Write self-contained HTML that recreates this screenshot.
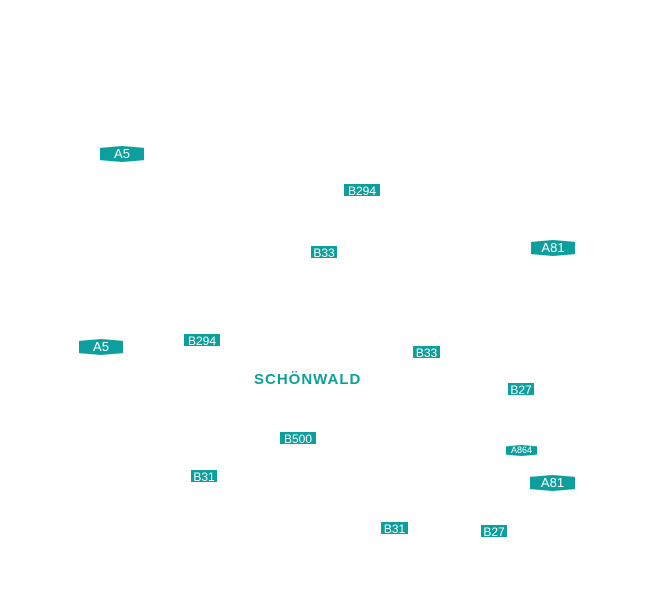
<!DOCTYPE html>
<html><head><meta charset="utf-8"><style>
html,body{margin:0;padding:0;background:#fff;width:650px;height:590px;overflow:hidden;position:relative;font-family:"Liberation Sans",sans-serif}
.b{position:absolute;background:#0d9e9e;color:#fff;font-size:12px;line-height:14px;height:14px;text-align:center;box-sizing:border-box;border:1px solid #fff;outline:0}
.a{position:absolute;background:#0d9e9e;color:#fff;font-size:13px;text-align:center;clip-path:polygon(0 12%,50% 0,100% 12%,100% 88%,50% 100%,0 88%);}
.t{position:absolute;color:#0d9e9e;font-weight:bold;font-size:15px;letter-spacing:1px;line-height:16px}
</style></head><body>
<div class="a" style="left:100px;top:146px;width:44px;height:16px;line-height:16px">A5</div>
<div class="b" style="left:343px;top:183px;width:38px">B294</div>
<div class="b" style="left:310px;top:245px;width:28px">B33</div>
<div class="a" style="left:531px;top:240px;width:44px;height:16px;line-height:16px">A81</div>
<div class="a" style="left:79px;top:339px;width:44px;height:16px;line-height:16px">A5</div>
<div class="b" style="left:183px;top:333px;width:38px">B294</div>
<div class="b" style="left:412px;top:345px;width:29px">B33</div>
<div class="t" style="left:254px;top:372px">SCHÖNWALD</div>
<div class="b" style="left:507px;top:382px;width:28px">B27</div>
<div class="b" style="left:279px;top:431px;width:38px">B500</div>
<div class="a" style="left:506px;top:445px;width:31px;height:11px;line-height:11px;font-size:9px">A864</div>
<div class="b" style="left:190px;top:469px;width:28px">B31</div>
<div class="a" style="left:530px;top:475px;width:45px;height:16px;line-height:16px">A81</div>
<div class="b" style="left:380px;top:521px;width:29px">B31</div>
<div class="b" style="left:480px;top:524px;width:28px">B27</div>
</body></html>
